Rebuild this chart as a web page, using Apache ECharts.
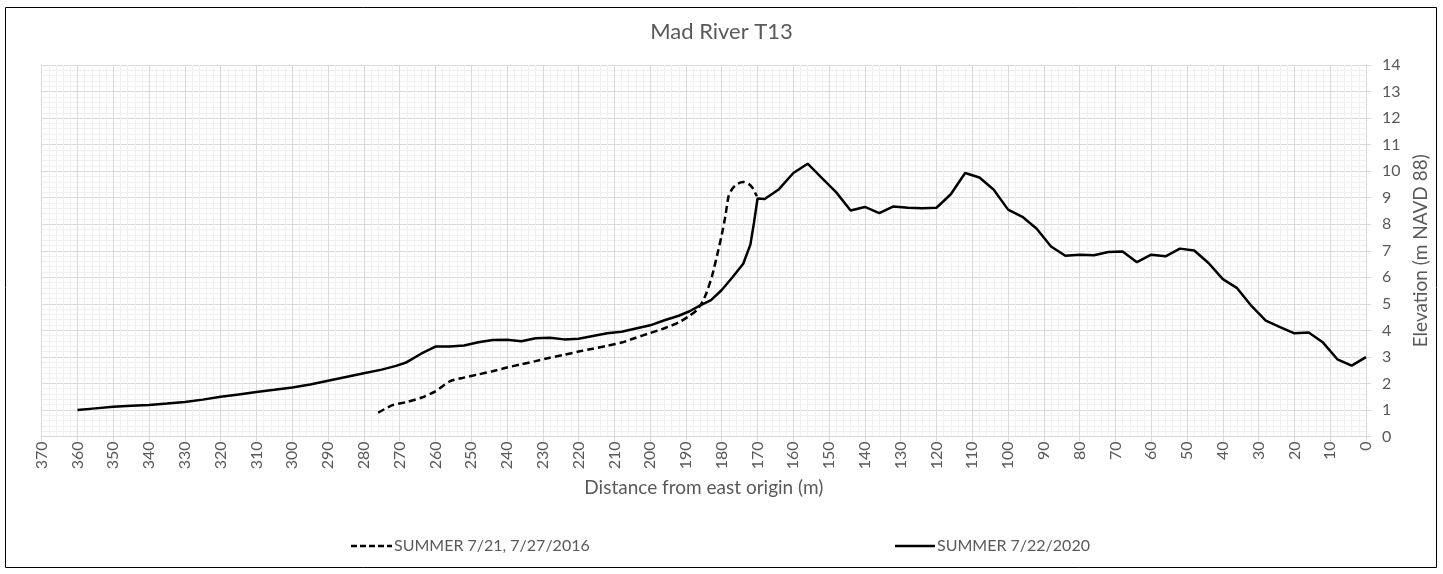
<!DOCTYPE html>
<html>
<head>
<meta charset="utf-8">
<script src="https://cdn.jsdelivr.net/npm/echarts@6/dist/echarts.min.js"></script>
<style>
html,body{margin:0;padding:0;background:#fff;}
#chart{width:1443px;height:574px;}
</style>
</head>
<body>
<div id="chart"></div>
<script>
const titleText = 'Mad River T13';
const xAxisName = 'Distance from east origin (m)';
const yAxisName = 'Elevation (m NAVD 88)';
const seriesNames = ['SUMMER 7/21, 7/27/2016', 'SUMMER 7/22/2020'];

// 2016 survey: distance (m), elevation (m)
const dist2016 = [276, 272, 268, 264, 260, 256, 252, 248, 244, 240, 236, 232, 228, 224, 220, 216, 212, 208, 204, 200, 196, 192, 189, 187, 185.5, 184.3, 182.7, 181, 180, 179, 178.1, 177, 175.5, 174, 172.5, 171.3, 170.2];
const elev2016 = [0.90, 1.18, 1.30, 1.46, 1.70, 2.08, 2.22, 2.34, 2.46, 2.60, 2.72, 2.84, 2.97, 3.08, 3.20, 3.31, 3.42, 3.54, 3.72, 3.90, 4.08, 4.30, 4.55, 4.76, 5.05, 5.40, 6.05, 7.00, 7.60, 8.29, 9.05, 9.35, 9.53, 9.59, 9.52, 9.35, 9.05];

// 2020 survey: distance (m), elevation (m)
const dist2020 = [360, 355, 350, 345, 340, 335, 330, 325, 320, 315, 310, 305, 300, 295, 290, 285, 280, 275, 271, 268, 264, 260, 256, 252, 248, 244, 240, 236, 232, 228, 224, 220, 216, 212, 208, 204, 200, 196, 192, 189, 186, 183, 180, 177, 174, 172, 171, 170, 168, 164, 160, 156, 152, 148, 144, 140, 136, 132, 128, 124, 120, 116, 112, 108, 104, 100, 96, 92, 88, 84, 80, 76, 72, 68, 64, 60, 56, 52, 48, 44, 40, 36, 32, 28, 24, 20, 16, 12, 8, 4, 0];
const elev2020 = [1.00, 1.06, 1.12, 1.16, 1.19, 1.24, 1.30, 1.39, 1.50, 1.58, 1.68, 1.76, 1.85, 1.96, 2.10, 2.24, 2.38, 2.52, 2.66, 2.80, 3.12, 3.39, 3.39, 3.43, 3.55, 3.64, 3.65, 3.59, 3.70, 3.72, 3.66, 3.68, 3.79, 3.89, 3.95, 4.07, 4.19, 4.38, 4.55, 4.72, 4.94, 5.14, 5.52, 6.00, 6.51, 7.23, 8.05, 8.97, 8.95, 9.32, 9.93, 10.28, 9.74, 9.20, 8.52, 8.65, 8.42, 8.67, 8.62, 8.60, 8.62, 9.13, 9.93, 9.76, 9.30, 8.55, 8.28, 7.83, 7.16, 6.81, 6.85, 6.83, 6.95, 6.97, 6.57, 6.85, 6.79, 7.08, 7.01, 6.54, 5.93, 5.59, 4.92, 4.37, 4.12, 3.89, 3.92, 3.54, 2.91, 2.67, 2.99];

const pairs = (xs, ys) => xs.map((x, i) => [x, ys[i]]);

const FONT = 'Lato';
const TXT = '#595959';
const dashIcon = 'path://M0,0h6v2.5h-6z M9,0h6v2.5h-6z M18,0h6v2.5h-6z M27,0h6v2.5h-6z M36,0h5v2.5h-5z';
const solidIcon = 'path://M0,0h40v2.5h-40z';

const chart = echarts.init(document.getElementById('chart'), null, {renderer: 'canvas'});
chart.setOption({
  animation: false,
  backgroundColor: '#ffffff',
  textStyle: {fontFamily: FONT},
  title: {
    text: titleText, left: 'center', top: 16,
    textStyle: {fontFamily: FONT, fontSize: 22, fontWeight: 'normal', color: TXT}
  },
  graphic: [{
    type: 'rect', silent: true,
    shape: {x: 5.5, y: 7.5, width: 1431, height: 560},
    style: {fill: 'none', stroke: '#000', lineWidth: 1}
  }],
  legend: [
    {data: [{name: seriesNames[0], icon: dashIcon}], left: 346, top: 533, itemWidth: 41, itemHeight: 2.5, itemGap: 2,
     itemStyle: {color: '#000'},
     textStyle: {fontFamily: FONT, fontSize: 16, color: TXT, padding: [0, 0, 0, -3]}},
    {data: [{name: seriesNames[1], icon: solidIcon}], left: 890, top: 533, itemWidth: 40, itemHeight: 2.5, itemGap: 2,
     itemStyle: {color: '#000'},
     textStyle: {fontFamily: FONT, fontSize: 16, color: TXT, padding: [0, 0, 0, -3]}}
  ],
  grid: {left: 41.7, right: 77, top: 65, bottom: 137.5, containLabel: false},
  xAxis: {
    type: 'value', inverse: true, min: 0, max: 370, interval: 10,
    name: xAxisName, nameLocation: 'middle', nameGap: 42,
    nameTextStyle: {fontFamily: FONT, fontSize: 19, color: TXT},
    axisLine: {show: true, lineStyle: {color: '#d9d9d9', width: 1}},
    axisTick: {show: true, length: 5, lineStyle: {color: '#d9d9d9'}},
    axisLabel: {rotate: 90, margin: 5, fontFamily: FONT, fontSize: 16, color: TXT},
    splitLine: {show: true, lineStyle: {color: '#d9d9d9', width: 1}},
    minorTick: {show: false, splitNumber: 5},
    minorSplitLine: {show: true, lineStyle: {color: '#f0f0f0', width: 1}}
  },
  yAxis: {
    type: 'value', position: 'right', min: 0, max: 14, interval: 1,
    name: yAxisName, nameLocation: 'middle', nameGap: 45, nameRotate: 90,
    nameTextStyle: {fontFamily: FONT, fontSize: 19, color: TXT},
    axisLine: {show: true, lineStyle: {color: '#d9d9d9', width: 1}},
    axisTick: {show: true, length: 5, lineStyle: {color: '#d9d9d9'}},
    axisLabel: {margin: 16, fontFamily: FONT, fontSize: 16, color: TXT},
    splitLine: {show: true, lineStyle: {color: '#d9d9d9', width: 1}},
    minorTick: {show: false, splitNumber: 5},
    minorSplitLine: {show: true, lineStyle: {color: '#f0f0f0', width: 1}}
  },
  series: [
    {name: seriesNames[0], type: 'line', data: pairs(dist2016, elev2016),
     showSymbol: false, symbol: 'none', smooth: 0.2,
     lineStyle: {color: '#000', width: 2.5, type: [7, 4]}, itemStyle: {color: '#000'}, z: 3},
    {name: seriesNames[1], type: 'line', data: pairs(dist2020, elev2020),
     showSymbol: false, symbol: 'none',
     lineStyle: {color: '#000', width: 2.5, type: 'solid'}, itemStyle: {color: '#000'}, z: 4}
  ]
});
</script>
</body>
</html>
